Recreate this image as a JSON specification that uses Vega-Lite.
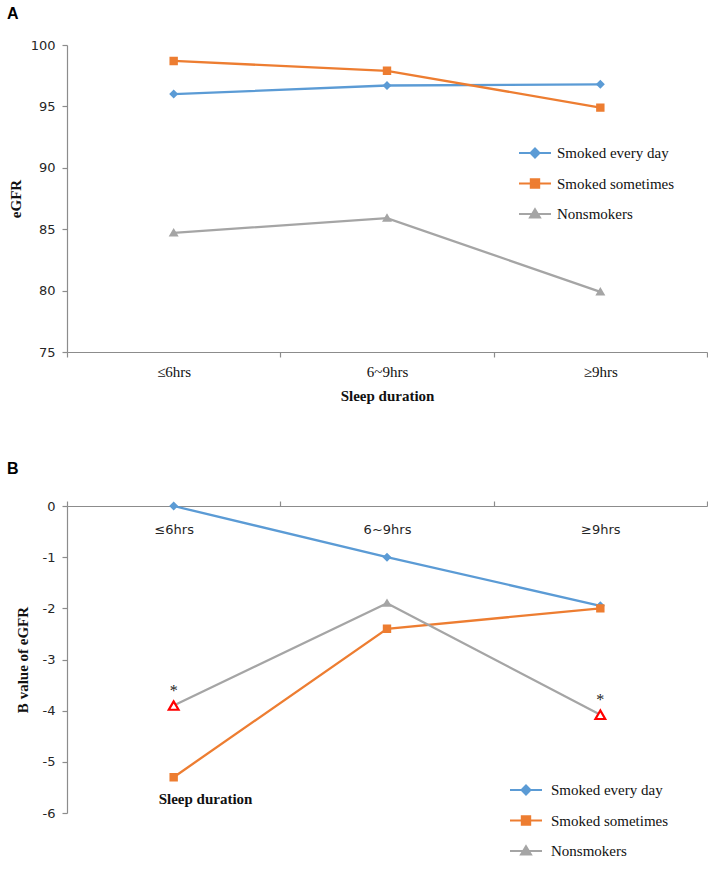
{
  "$schema": "https://vega.github.io/schema/vega-lite/v6.json",
  "padding": {"left": 7, "top": 6, "right": 0, "bottom": 5},
  "background": "white",
  "datasets": {
    "a": [
      {"sleep": "≤6hrs", "series": "Smoked every day", "value": 96.0},
      {"sleep": "6~9hrs", "series": "Smoked every day", "value": 96.7},
      {"sleep": "≥9hrs", "series": "Smoked every day", "value": 96.8},
      {"sleep": "≤6hrs", "series": "Smoked sometimes", "value": 98.7},
      {"sleep": "6~9hrs", "series": "Smoked sometimes", "value": 97.9},
      {"sleep": "≥9hrs", "series": "Smoked sometimes", "value": 94.9},
      {"sleep": "≤6hrs", "series": "Nonsmokers", "value": 84.7},
      {"sleep": "6~9hrs", "series": "Nonsmokers", "value": 85.9},
      {"sleep": "≥9hrs", "series": "Nonsmokers", "value": 79.9}
    ],
    "b": [
      {"sleep": "≤6hrs", "series": "Smoked every day", "value": 0, "sig": false},
      {"sleep": "6~9hrs", "series": "Smoked every day", "value": -1.0, "sig": false},
      {"sleep": "≥9hrs", "series": "Smoked every day", "value": -1.95, "sig": false},
      {"sleep": "≤6hrs", "series": "Smoked sometimes", "value": -5.3, "sig": false},
      {"sleep": "6~9hrs", "series": "Smoked sometimes", "value": -2.4, "sig": false},
      {"sleep": "≥9hrs", "series": "Smoked sometimes", "value": -2.0, "sig": false},
      {"sleep": "≤6hrs", "series": "Nonsmokers", "value": -3.9, "sig": true},
      {"sleep": "6~9hrs", "series": "Nonsmokers", "value": -1.9, "sig": false},
      {"sleep": "≥9hrs", "series": "Nonsmokers", "value": -4.08, "sig": true}
    ]
  },
  "config": {
    "view": {"stroke": null},
    "axis": {
      "grid": false,
      "domainColor": "#8c8c8c",
      "tickColor": "#8c8c8c",
      "domainWidth": 1.2,
      "tickWidth": 1.2,
      "tickSize": 5,
      "labelFont": "DejaVu Sans",
      "labelFontSize": 13,
      "labelColor": "#262626",
      "titleFont": "Liberation Serif",
      "titleFontWeight": "bold",
      "titleFontSize": 15,
      "titleColor": "#111111"
    },
    "legend": {
      "title": null,
      "orient": "none",
      "padding": 0,
      "symbolSize": 400,
      "symbolStrokeWidth": 2,
      "labelOffset": 11,
      "rowPadding": 10.5,
      "labelFont": "Liberation Serif",
      "labelFontSize": 15,
      "labelColor": "#111111"
    },
    "title": {
      "anchor": "start",
      "frame": "group",
      "dx": -60,
      "baseline": "alphabetic",
      "font": "Liberation Sans",
      "fontSize": 16,
      "fontWeight": "bold",
      "color": "#000000"
    }
  },
  "bounds": "flush",
  "spacing": 154,
  "resolve": {
    "scale": {"color": "independent", "shape": "independent"},
    "legend": {"color": "independent", "shape": "independent"}
  },
  "vconcat": [
    {
      "title": {"text": "A", "offset": 17},
      "width": 640,
      "height": 307,
      "data": {"name": "a"},
      "encoding": {
        "x": {
          "field": "sleep", "type": "nominal",
          "sort": ["≤6hrs", "6~9hrs", "≥9hrs"],
          "scale": {"paddingInner": 0, "paddingOuter": 0},
          "axis": {
            "title": "Sleep duration",
            "labelAngle": 0,
            "tickBand": "extent",
            "labelFont": "Liberation Serif",
            "labelFontSize": 15,
            "labelColor": "#111111",
            "labelPadding": 7,
            "titlePadding": 9
          }
        },
        "y": {
          "field": "value", "type": "quantitative",
          "scale": {"domain": [75, 100], "nice": false, "zero": false},
          "axis": {
            "values": [75, 80, 85, 90, 95, 100],
            "title": "eGFR",
            "titleX": -52,
            "titleY": 153.5,
            "titleAngle": -90,
            "titleAlign": "center",
            "titleBaseline": "middle",
            "labelPadding": 7
          }
        },
        "color": {
          "field": "series", "type": "nominal",
          "scale": {
            "domain": ["Smoked every day", "Smoked sometimes", "Nonsmokers"],
            "range": ["#5B9BD5", "#ED7D31", "#A5A5A5"]
          },
          "legend": {
            "legendX": 457,
            "legendY": 97,
            "encode": {
              "symbols": {
                "update": {
                  "stroke": {"signal": "datum.value === 'Smoked every day' ? '#5B9BD5' : datum.value === 'Smoked sometimes' ? '#ED7D31' : '#A5A5A5'"},
                  "strokeWidth": {"value": 2},
                  "opacity": {"value": 1}
                }
              }
            }
          }
        }
      },
      "layer": [
        {"mark": {"type": "line", "strokeWidth": 2.3}},
        {
          "mark": {"type": "point", "filled": true, "opacity": 1, "size": 400},
          "encoding": {
            "shape": {
              "field": "series", "type": "nominal",
              "scale": {
                "domain": ["Smoked every day", "Smoked sometimes", "Nonsmokers"],
                "range": [
                  "M-1.6,0L1.6,0M0,-0.45L0.45,0L0,0.45L-0.45,0Z",
                  "M-1.6,0L1.6,0M-0.42,-0.42L0.42,-0.42L0.42,0.42L-0.42,0.42Z",
                  "M-1.6,0L1.6,0M0,-0.48L0.5,0.36L-0.5,0.36Z"
                ]
              },
              "legend": null
            }
          }
        }
      ]
    },
    {
      "title": {"text": "B", "offset": 23},
      "width": 640,
      "height": 307,
      "data": {"name": "b"},
      "encoding": {
        "x": {
          "field": "sleep", "type": "nominal",
          "sort": ["≤6hrs", "6~9hrs", "≥9hrs"],
          "scale": {"paddingInner": 0, "paddingOuter": 0},
          "axis": {
            "orient": "top",
            "title": "Sleep duration",
            "titleX": 138,
            "titleY": 292,
            "titleAngle": 0,
            "titleAlign": "center",
            "titleBaseline": "middle",
            "labelAngle": 0,
            "tickBand": "extent",
            "labelPadding": -35
          }
        },
        "y": {
          "field": "value", "type": "quantitative",
          "scale": {"domain": [-6, 0], "nice": false, "zero": false},
          "axis": {
            "values": [-6, -5, -4, -3, -2, -1, 0],
            "labelExpr": "datum.value < 0 ? '-' + abs(datum.value) : '' + datum.value",
            "title": "B value of eGFR",
            "titleX": -45,
            "titleY": 153.5,
            "titleAngle": -90,
            "titleAlign": "center",
            "titleBaseline": "middle",
            "labelPadding": 7
          }
        },
        "color": {
          "field": "series", "type": "nominal",
          "scale": {
            "domain": ["Smoked every day", "Smoked sometimes", "Nonsmokers"],
            "range": ["#5B9BD5", "#ED7D31", "#A5A5A5"]
          },
          "legend": {
            "legendX": 448,
            "legendY": 273,
            "labelOffset": 14,
            "encode": {
              "symbols": {
                "update": {
                  "stroke": {"signal": "datum.value === 'Smoked every day' ? '#5B9BD5' : datum.value === 'Smoked sometimes' ? '#ED7D31' : '#A5A5A5'"},
                  "strokeWidth": {"value": 2},
                  "opacity": {"value": 1}
                }
              }
            }
          }
        }
      },
      "layer": [
        {"mark": {"type": "line", "strokeWidth": 2.3}},
        {
          "mark": {"type": "point", "filled": true, "opacity": 1, "size": 400},
          "encoding": {
            "shape": {
              "field": "series", "type": "nominal",
              "scale": {
                "domain": ["Smoked every day", "Smoked sometimes", "Nonsmokers"],
                "range": [
                  "M-1.6,0L1.6,0M0,-0.45L0.45,0L0,0.45L-0.45,0Z",
                  "M-1.6,0L1.6,0M-0.42,-0.42L0.42,-0.42L0.42,0.42L-0.42,0.42Z",
                  "M-1.6,0L1.6,0M0,-0.48L0.5,0.36L-0.5,0.36Z"
                ]
              },
              "legend": null
            }
          }
        },
        {
          "transform": [{"filter": "datum.sig"}],
          "mark": {"type": "point", "shape": "triangle-up", "filled": true, "fill": "#ffffff", "stroke": "#ff0000", "strokeWidth": 2.2, "opacity": 1, "size": 95}
        },
        {
          "transform": [{"filter": "datum.sig"}],
          "mark": {"type": "text", "text": "*", "font": "Liberation Serif", "fontSize": 16, "baseline": "alphabetic", "dy": -10, "fill": "#222222"}
        }
      ]
    }
  ]
}
